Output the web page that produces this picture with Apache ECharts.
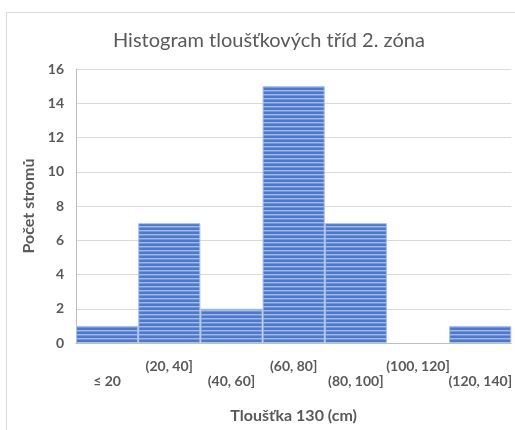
<!DOCTYPE html>
<html>
<head>
<meta charset="utf-8">
<script src="https://cdn.jsdelivr.net/npm/echarts@6/dist/echarts.min.js"></script>
<style>
  html, body { margin: 0; padding: 0; background: #fff; }
  #chart { width: 515px; height: 430px; }
</style>
</head>
<body>
<div id="chart"></div>
<script>
// Diameter classes (cm at 130 cm height) and number of trees in each
const categories = ['≤ 20', '(20, 40]', '(40, 60]', '(60, 80]', '(80, 100]', '(100, 120]', '(120, 140]'];
const counts = [1, 7, 2, 15, 7, 0, 1];
const yTicks = { min: 0, max: 16, interval: 2 };

// Horizontal stripe fill for the bars
function stripePattern() {
  const c = document.createElement('canvas');
  c.width = 4; c.height = 4;
  const g = c.getContext('2d');
  const rows = ['#4e78c9', '#4e78c9', '#9fb9e8', '#7395d8'];
  rows.forEach((col, i) => { g.fillStyle = col; g.fillRect(0, i, 4, 1); });
  return c;
}

const font = 'Lato, "Open Sans", sans-serif';
const labelStyle = { fontFamily: font, fontSize: 14, fontWeight: 'bold', color: '#595959' };
const chart = echarts.init(document.getElementById('chart'), null, { renderer: 'canvas' });
chart.setOption({
  animation: false,
  backgroundColor: '#fff',
  title: {
    text: 'Histogram tloušťkových tříd 2. zóna',
    left: 108,
    top: 26,
    textStyle: { fontFamily: font, fontSize: 20, fontWeight: 'normal', color: '#595959' }
  },
  graphic: [{
    type: 'rect',
    shape: { x: 6.5, y: 12.5, width: 600, height: 600 },
    style: { fill: 'none', stroke: '#d9d9d9', lineWidth: 1 },
    z: -10
  }],
  grid: { left: 76, right: 3, top: 69, bottom: 87 },
  xAxis: {
    type: 'category',
    data: categories,
    boundaryGap: true,
    axisTick: { show: false },
    axisLine: { lineStyle: { color: '#bfbfbf', width: 1 } },
    axisLabel: {
      interval: 0,
      margin: 16,
      formatter: (v, i) => (i % 2 === 0 ? '{low|' + v + '}' : '{high|' + v + '}'),
      rich: {
        high: Object.assign({}, labelStyle),
        low: Object.assign({ padding: [15, 0, 0, 0] }, labelStyle)
      }
    },
    name: 'Tloušťka 130 (cm)',
    nameLocation: 'middle',
    nameGap: 65,
    nameTextStyle: { fontFamily: font, fontSize: 16, fontWeight: 'bold', color: '#595959' }
  },
  yAxis: {
    type: 'value',
    min: yTicks.min,
    max: yTicks.max,
    interval: yTicks.interval,
    axisLine: { show: true, lineStyle: { color: '#bfbfbf', width: 1 } },
    axisTick: { show: false },
    splitLine: { lineStyle: { color: '#d9d9d9', width: 1 } },
    axisLabel: Object.assign({ margin: 12 }, labelStyle),
    name: 'Počet stromů',
    nameLocation: 'middle',
    nameGap: 38,
    nameTextStyle: { fontFamily: font, fontSize: 16, fontWeight: 'bold', color: '#595959' }
  },
  series: [{
    type: 'bar',
    data: counts.map(v => ({ value: v, itemStyle: { borderWidth: v === 0 ? 0 : 1 } })),
    barCategoryGap: '0%',
    itemStyle: {
      color: { image: stripePattern(), repeat: 'repeat' },
      borderColor: '#a9c1ec',
      borderWidth: 1
    }
  }]
});
</script>
</body>
</html>
